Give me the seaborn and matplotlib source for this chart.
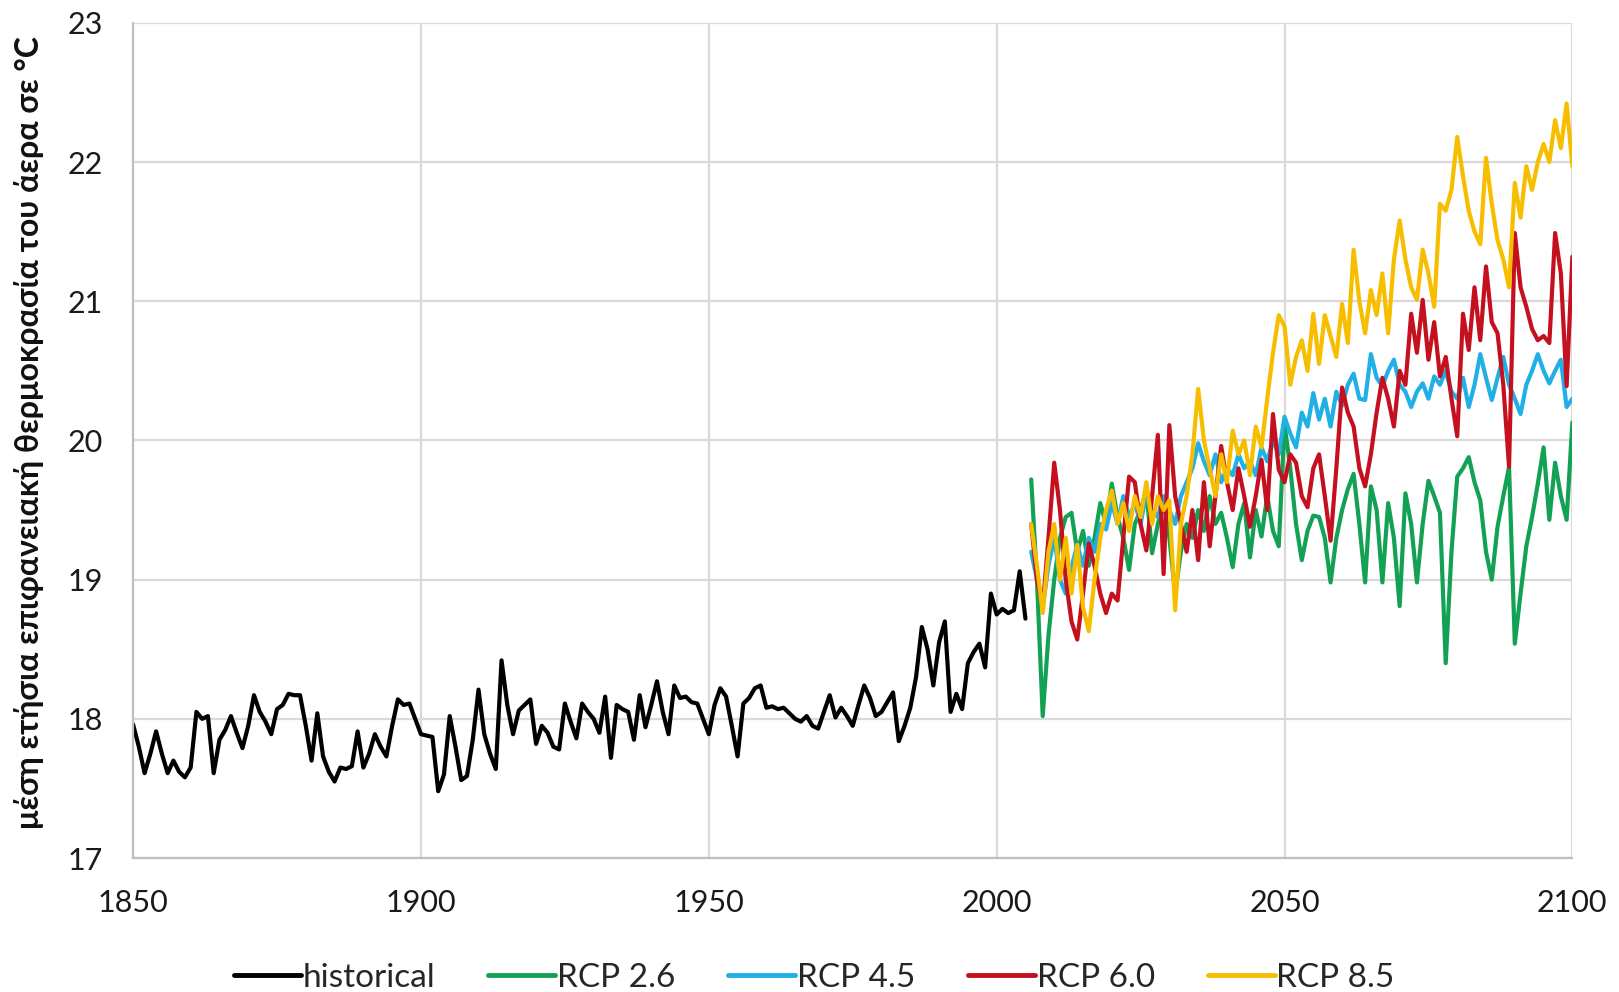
import numpy as np
import pandas as pd
import matplotlib
matplotlib.use("Agg")
import matplotlib.pyplot as plt
import seaborn as sns

# ---------------- data ----------------
hist_years = list(range(1850, 2006))
hist_vals = [
    17.96, 17.80, 17.61, 17.75, 17.91, 17.75, 17.61, 17.70, 17.62, 17.58,  # 1850-59
    17.65, 18.05, 18.00, 18.02, 17.61, 17.85, 17.92, 18.02, 17.90, 17.79,  # 1860-69
    17.95, 18.17, 18.05, 17.98, 17.89, 18.07, 18.10, 18.18, 18.17, 18.17,  # 1870-79
    17.95, 17.70, 18.04, 17.73, 17.62, 17.55, 17.65, 17.64, 17.66, 17.91,  # 1880-89
    17.65, 17.75, 17.89, 17.80, 17.73, 17.95, 18.14, 18.10, 18.11, 18.00,  # 1890-99
    17.89, 17.88, 17.87, 17.48, 17.60, 18.02, 17.80, 17.56, 17.59, 17.85,  # 1900-09
    18.21, 17.89, 17.75, 17.64, 18.42, 18.10, 17.89, 18.06, 18.10, 18.14,  # 1910-19
    17.82, 17.95, 17.90, 17.80, 17.78, 18.11, 17.98, 17.86, 18.11, 18.05,  # 1920-29
    18.00, 17.90, 18.16, 17.72, 18.10, 18.07, 18.05, 17.85, 18.17, 17.94,  # 1930-39
    18.10, 18.27, 18.05, 17.89, 18.24, 18.15, 18.16, 18.12, 18.11, 18.00,  # 1940-49
    17.89, 18.10, 18.22, 18.16, 17.95, 17.73, 18.11, 18.15, 18.22, 18.24,  # 1950-59
    18.08, 18.09, 18.07, 18.08, 18.04, 18.00, 17.98, 18.02, 17.95, 17.93,  # 1960-69
    18.05, 18.17, 18.01, 18.08, 18.02, 17.95, 18.10, 18.24, 18.15, 18.02,  # 1970-79
    18.05, 18.12, 18.19, 17.84, 17.95, 18.08, 18.30, 18.66, 18.50, 18.24,  # 1980-89
    18.55, 18.70, 18.05, 18.18, 18.07, 18.40, 18.48, 18.54, 18.37, 18.90,  # 1990-99
    18.75, 18.79, 18.76, 18.78, 19.06, 18.72,                              # 2000-05
]

rcp_years = list(range(2006, 2101))
rcp26 = [
    19.72, 19.00, 18.02, 18.60, 19.00, 19.30, 19.45, 19.48, 19.20, 19.35,  # 2006-15
    19.10, 19.30, 19.55, 19.40, 19.69, 19.45, 19.30, 19.07, 19.40, 19.50,  # 2016-25
    19.64, 19.19, 19.40, 19.55, 19.30, 18.90, 19.20, 19.40, 19.30, 19.50,  # 2026-35
    19.35, 19.60, 19.40, 19.48, 19.30, 19.09, 19.40, 19.55, 19.16, 19.50,  # 2036-45
    19.31, 19.60, 19.35, 19.24, 20.12, 19.80, 19.40, 19.14, 19.35, 19.46,  # 2046-55
    19.45, 19.30, 18.98, 19.30, 19.50, 19.65, 19.76, 19.40, 18.98, 19.67,  # 2056-65
    19.50, 18.98, 19.55, 19.30, 18.81, 19.62, 19.40, 18.98, 19.40, 19.71,  # 2066-75
    19.60, 19.48, 18.40, 19.20, 19.74, 19.80, 19.88, 19.70, 19.57, 19.20,  # 2076-85
    19.00, 19.38, 19.60, 19.81, 18.54, 18.90, 19.24, 19.45, 19.69, 19.95,  # 2086-95
    19.43, 19.84, 19.60, 19.43, 20.13,                                     # 2096-2100
]
rcp45 = [
    19.20, 19.00, 18.80, 19.10, 19.30, 19.00, 18.90, 19.09, 19.25, 19.10,
    19.30, 19.20, 19.40, 19.36, 19.55, 19.40, 19.60, 19.45, 19.55, 19.40,
    19.62, 19.50, 19.45, 19.60, 19.50, 19.40, 19.60, 19.70, 19.80, 19.98,
    19.85, 19.75, 19.90, 19.70, 19.80, 19.75, 19.90, 19.80, 19.85, 19.75,
    19.95, 19.85, 20.00, 19.90, 20.17, 20.05, 19.95, 20.20, 20.10, 20.34,
    20.15, 20.30, 20.10, 20.35, 20.25, 20.40, 20.48, 20.30, 20.29, 20.62,
    20.45, 20.39, 20.50, 20.58, 20.40, 20.35, 20.24, 20.35, 20.41, 20.30,
    20.46, 20.40, 20.50, 20.35, 20.30, 20.45, 20.24, 20.40, 20.62, 20.45,
    20.29, 20.45, 20.60, 20.40, 20.30, 20.19, 20.40, 20.50, 20.62, 20.50,
    20.41, 20.50, 20.58, 20.24, 20.30,
]
rcp60 = [
    19.40, 19.00, 18.80, 19.30, 19.84, 19.50, 19.00, 18.70, 18.57, 18.90,
    19.26, 19.10, 18.90, 18.76, 18.90, 18.85, 19.30, 19.74, 19.70, 19.40,
    19.21, 19.60, 20.04, 19.04, 20.11, 19.60, 19.40, 19.20, 19.50, 19.14,
    19.70, 19.24, 19.60, 19.96, 19.70, 19.50, 19.80, 19.60, 19.38, 19.60,
    19.86, 19.50, 20.19, 19.79, 19.70, 19.90, 19.84, 19.60, 19.52, 19.80,
    19.90, 19.60, 19.28, 19.80, 20.38, 20.20, 20.10, 19.80, 19.67, 19.90,
    20.20, 20.45, 20.30, 20.10, 20.50, 20.40, 20.91, 20.63, 21.01, 20.58,
    20.85, 20.46, 20.60, 20.30, 20.03, 20.91, 20.65, 21.10, 20.72, 21.25,
    20.85, 20.77, 20.40, 19.81, 21.49, 21.10, 20.96, 20.80, 20.72, 20.75,
    20.70, 21.49, 21.20, 20.39, 21.32,
]
rcp85 = [
    19.40, 19.10, 18.76, 19.20, 19.40, 19.00, 19.30, 18.90, 19.25, 18.80,
    18.63, 19.00, 19.30, 19.50, 19.64, 19.40, 19.55, 19.35, 19.60, 19.45,
    19.70, 19.40, 19.60, 19.50, 19.57, 18.78, 19.40, 19.60, 19.90, 20.37,
    20.00, 19.80, 19.60, 19.90, 19.70, 20.07, 19.90, 20.00, 19.75, 20.10,
    19.95, 20.30, 20.63, 20.90, 20.82, 20.40, 20.60, 20.72, 20.50, 20.91,
    20.55, 20.90, 20.75, 20.60, 20.98, 20.70, 21.37, 21.00, 20.77, 21.08,
    20.90, 21.20, 20.77, 21.30, 21.58, 21.30, 21.10, 21.01, 21.37, 21.20,
    20.96, 21.70, 21.65, 21.80, 22.18, 21.90, 21.65, 21.50, 21.41, 22.03,
    21.70, 21.44, 21.30, 21.10, 21.85, 21.60, 21.97, 21.80, 22.00, 22.13,
    22.00, 22.30, 22.10, 22.42, 21.97,
]

series_names = ["historical", "RCP 2.6", "RCP 4.5", "RCP 6.0", "RCP 8.5"]
series_colors = ["#000000", "#12a155", "#20b0e6", "#c4101f", "#f7be00"]
x_ticks = [1850, 1900, 1950, 2000, 2050, 2100]
y_ticks = [17, 18, 19, 20, 21, 22, 23]
y_label = "μέση ετήσια επιφανειακή θερμοκρασία του άερα σε °C"

# --------------- frame ----------------
frames = [pd.DataFrame({"year": hist_years, "temp": hist_vals, "series": "historical"})]
for name, vals in zip(series_names[1:], [rcp26, rcp45, rcp60, rcp85]):
    frames.append(pd.DataFrame({"year": rcp_years, "temp": vals, "series": name}))
df = pd.concat(frames, ignore_index=True)

sns.set_theme(style="white")
plt.rcParams["font.family"] = ["Lato", "DejaVu Sans"]

fig = plt.figure(figsize=(16.19, 9.92), dpi=100)
ax = fig.add_axes([0.0822, 0.135, 0.889, 0.842])

sns.lineplot(data=df, x="year", y="temp", hue="series", hue_order=series_names,
             palette=dict(zip(series_names, series_colors)), linewidth=3.0,
             ax=ax, legend=False, estimator=None, sort=True)

ax.set_xlim(1850, 2100)
ax.set_ylim(17, 23)
ax.set_xticks(x_ticks)
ax.set_yticks(y_ticks)
ax.grid(True, color="#d9d9d9", linewidth=1.6)
ax.set_axisbelow(True)
for side in ["top", "right"]:
    ax.spines[side].set_visible(False)
for side in ["left", "bottom"]:
    ax.spines[side].set_color("#bfbfbf")
    ax.spines[side].set_linewidth(1.6)
ax.tick_params(axis="x", length=0, pad=22, labelsize=22, colors="#1a1a1a")
ax.tick_params(axis="y", length=0, pad=22, labelsize=22, colors="#1a1a1a")
ax.set_xlabel("")
ax.set_ylabel(y_label, fontsize=23, fontweight="bold", color="#111111")
ax.yaxis.set_label_coords(-0.062, 0.51)

handles = [plt.Line2D([], [], color=c, linewidth=3.5) for c in series_colors]
fig.legend(handles, series_names, loc="center", bbox_to_anchor=(0.503, 0.014),
           ncol=5, frameon=False, fontsize=24, handlelength=2.0,
           handletextpad=0.05, columnspacing=1.6)

fig.savefig("out.png", dpi=100, facecolor="white")
